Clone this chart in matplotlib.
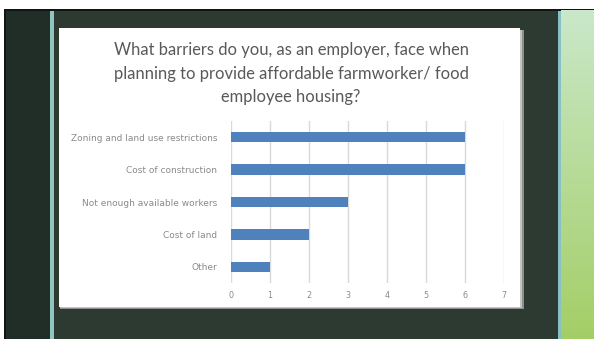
import numpy as np
import matplotlib
matplotlib.use("Agg")
import matplotlib.pyplot as plt
from matplotlib.patches import Rectangle

# Survey results
categories = [
    "Zoning and land use restrictions",
    "Cost of construction",
    "Not enough available workers",
    "Cost of land",
    "Other",
]
counts = [6, 6, 3, 2, 1]
x_ticks = [0, 1, 2, 3, 4, 5, 6, 7]
title_lines = [
    "What barriers do you, as an employer, face when",
    "planning to provide affordable farmworker/ food",
    "employee housing?",
]

W, H = 594, 339
fig = plt.figure(figsize=(W / 100, H / 100), dpi=100)
fig.patch.set_facecolor("white")


def box(x0, y0, x1, y1):
    """Pixel box (top-left origin) to figure-fraction rect."""
    return [x0 / W, 1 - y1 / H, (x1 - x0) / W, (y1 - y0) / H]


bg = fig.add_axes([0, 0, 1, 1])
bg.set_xlim(0, W)
bg.set_ylim(H, 0)
bg.axis("off")

# slide frame
bg.add_patch(Rectangle((4, 8.5), W, H, color="#101612", lw=0))
bg.add_patch(Rectangle((6, 10.5), 46, H, color="#202e27", lw=0))
bg.add_patch(Rectangle((50, 10.5), 3.5, H, color="#8fc6bd", lw=0))
bg.add_patch(Rectangle((53.5, 10.5), 505, H, color="#2c3a31", lw=0))
bg.add_patch(Rectangle((558, 10.5), 3, H, color="#86c2c4", lw=0))

# light green gradient panel on the right
grad = np.linspace(0, 1, 200)[:, None]
top = np.array([0.79, 0.91, 0.79])
bot = np.array([0.64, 0.81, 0.40])
img = top[None, None, :] * (1 - grad[:, :, None]) + bot[None, None, :] * grad[:, :, None]
bg.imshow(img, extent=(561, W, H, 10.5), aspect="auto", zorder=1)

# card with soft shadow
bg.add_patch(Rectangle((60, 30), 464, 279, color="#8e8e8e", lw=0, zorder=2))
bg.add_patch(Rectangle((60, 30), 462, 278, color="#c4c4c4", lw=0, zorder=2))
bg.add_patch(Rectangle((59, 28), 461, 279, color="white", lw=0, zorder=3))

for i, line in enumerate(title_lines):
    bg.text(291, 50 + i * 23.5, line, ha="center", va="center", fontsize=11.9,
            family="Lato", color="#595959", zorder=4)

ax = fig.add_axes(box(231, 121, 504, 283))
ax.set_facecolor("none")
y = np.arange(len(categories))[::-1]
ax.barh(y, counts, height=0.32, color="#4f81bd", zorder=3)
ax.set_xlim(0, 7)
ax.set_ylim(-0.5, len(categories) - 0.5)
ax.set_xticks(x_ticks)
ax.set_xticklabels([str(t) for t in x_ticks])
ax.set_yticks(y)
ax.set_yticklabels(categories)
ax.grid(axis="x", color="#d9d9d9", lw=1.0, zorder=0)
for s in ax.spines.values():
    s.set_visible(False)
ax.tick_params(length=0, labelsize=6.5, colors="#8a8a8a")
ax.tick_params(axis="x", pad=6, labelsize=5.8)
ax.tick_params(axis="y", pad=10)
for lab in ax.get_xticklabels() + ax.get_yticklabels():
    lab.set_family("DejaVu Sans")

fig.savefig("out.png", dpi=100)
